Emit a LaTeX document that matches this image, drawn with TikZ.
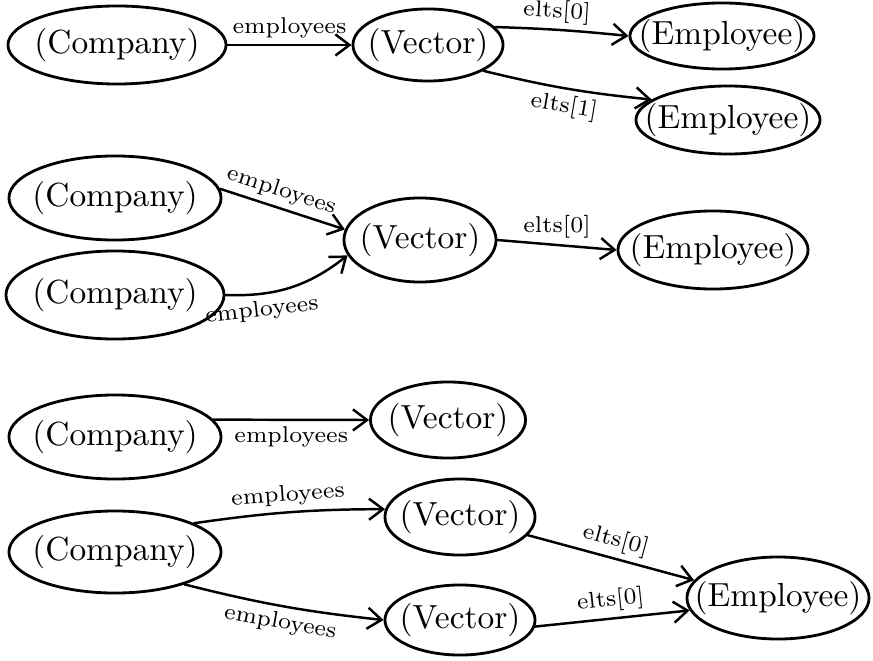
\documentclass[tikz,border=0pt]{standalone}
\usepackage{tikz}
\usetikzlibrary{shapes.geometric,arrows.meta,positioning}

\begin{document}
\begin{tikzpicture}[x=0.01cm,y=0.01cm,line cap=round]
  % Styles
  \tikzstyle{object}=[ellipse,draw,line width=0.8pt,inner xsep=-12pt,inner ysep=0pt,font=\fontsize{9.5}{10}\selectfont]
  \tikzstyle{field}=[-{Straight Barb[length=4pt,width=6pt]},line width=0.7pt]
  \tikzstyle{field label}=[font=\fontsize{6.5}{7}\selectfont,inner sep=1.5pt]

  \useasboundingbox (0,0) rectangle (873,660);

  % first heap
  \node[object,minimum width=2.18cm,minimum height=0.78cm] (comp1) at (117,615) {(Company)};
  \node[object,minimum width=1.50cm,minimum height=0.72cm] (vec1) at (428,615) {(Vector)};
  \node[object,minimum width=1.84cm,minimum height=0.66cm] (emp1a) at (722,624) {(Employee)};
  \node[object,minimum width=1.84cm,minimum height=0.68cm] (emp1b) at (728,540) {(Employee)};

  \draw[field] (comp1.east) -- (vec1.west)
    node[field label,midway,above] {employees};
  \draw[field] (vec1.15) to[bend left=2]
    node[field label,pos=0.45,above,sloped] {elts[0]} (emp1a.west);
  \draw[field] (vec1.-25) to[bend right=4]
    node[field label,pos=0.5,below,sloped] {elts[1]} (emp1b.165);

  % second heap
  \node[object,minimum width=2.12cm,minimum height=0.84cm] (comp2a) at (115,462) {(Company)};
  \node[object,minimum width=2.18cm,minimum height=0.88cm] (comp2b) at (115,365) {(Company)};
  \node[object,minimum width=1.52cm,minimum height=0.84cm] (vec2) at (420,420) {(Vector)};
  \node[object,minimum width=1.90cm,minimum height=0.78cm] (emp2) at (713,410) {(Employee)};

  \draw[field] (comp2a.5) -- (vec2.172)
    node[field label,pos=0.45,above,sloped] {employees};
  \draw[field] (comp2b.0) to[bend right=20]
    node[field label,pos=0.25,below,sloped] {employees} (vec2.-168);
  \draw[field] (vec2.east) -- (emp2.west)
    node[field label,midway,above] {elts[0]};

  % third heap
  \node[object,minimum width=2.12cm,minimum height=0.84cm] (comp3) at (115,223) {(Company)};
  \node[object,minimum width=1.55cm,minimum height=0.76cm] (vec3) at (448,240) {(Vector)};

  \draw[field] (comp3.10) -- (vec3.west)
    node[field label,pos=0.5,below] {employees};

  % fourth heap
  \node[object,minimum width=2.12cm,minimum height=0.82cm] (comp4) at (115,108) {(Company)};
  \node[object,minimum width=1.50cm,minimum height=0.76cm] (vec4a) at (460,143) {(Vector)};
  \node[object,minimum width=1.50cm,minimum height=0.70cm] (vec4b) at (460,40) {(Vector)};
  \node[object,minimum width=1.82cm,minimum height=0.82cm] (emp4) at (778,62) {(Employee)};

  \draw[field] (comp4.20) to[bend left=4]
    node[field label,midway,above,sloped] {employees} (vec4a.174);
  \draw[field] (comp4.-25) to[bend right=4]
    node[field label,midway,below,sloped] {employees} (vec4b.180);
  \draw[field] (vec4a.-15) -- (emp4.168)
    node[field label,midway,above,sloped] {elts[0]};
  \draw[field] (vec4b.-5) -- (emp4.188)
    node[field label,midway,above,sloped] {elts[0]};

\end{tikzpicture}
\end{document}
